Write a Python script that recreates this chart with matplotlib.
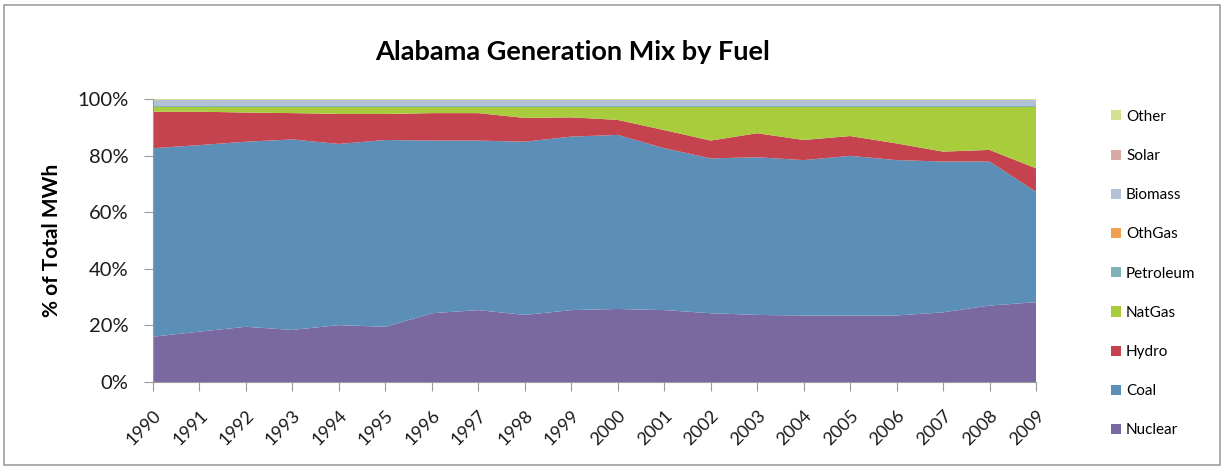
import numpy as np
import matplotlib
matplotlib.use("Agg")
import matplotlib.pyplot as plt
from matplotlib.patches import Rectangle

plt.rcParams['font.family'] = ['Lato', 'DejaVu Sans']

years = list(range(1990, 2010))

# share of total MWh by fuel, percent (stack order bottom -> top)
nuclear = [16.0, 17.8, 19.5, 18.4, 20.1, 19.5, 24.3, 25.4, 23.7, 25.4,
           25.8, 25.4, 24.3, 23.7, 23.5, 23.5, 23.5, 24.6, 27.0, 28.2]
coal = [66.6, 65.9, 65.4, 67.3, 64.0, 66.0, 61.0, 59.9, 61.2, 61.3,
        61.5, 57.2, 54.7, 55.7, 54.9, 56.4, 54.9, 53.3, 50.9, 39.0]
hydro = [12.9, 11.8, 10.3, 9.3, 10.6, 9.2, 9.7, 9.7, 8.4, 6.8,
         5.3, 6.4, 6.3, 8.5, 7.1, 7.0, 5.9, 3.5, 4.1, 8.3]
natgas = [1.8, 1.8, 2.1, 2.3, 2.6, 2.6, 2.3, 2.3, 4.0, 3.8,
          4.7, 8.3, 12.0, 9.4, 11.8, 10.4, 13.0, 15.9, 15.3, 21.8]
petroleum = [0.2] * 20
othgas = [0.05] * 20
biomass = [2.2] * 20
solar = [0.0] * 20
other = [0.25] * 20

labels = ['Nuclear', 'Coal', 'Hydro', 'NatGas', 'Petroleum',
          'OthGas', 'Biomass', 'Solar', 'Other']
colors = ['#7A69A1', '#5B8FB8', '#C5434E', '#A9CC3C', '#7FB3B5',
          '#F0A050', '#B2C0D8', '#D9A9A5', '#D4E28F']

series = np.array([nuclear, coal, hydro, natgas, petroleum,
                   othgas, biomass, solar, other])
shares = series / series.sum(axis=0)

fig = plt.figure(figsize=(12.24, 4.69), dpi=100)
ax = fig.add_axes([0.125, 0.1855, 0.7214, 0.6035])

ax.stackplot(years, shares, colors=colors, labels=labels, linewidth=0)

ax.set_xlim(years[0], years[-1])
ax.set_ylim(0, 1)
yt = np.arange(0, 1.01, 0.2)
ax.set_yticks(yt)
ax.set_yticklabels([f'{int(round(v * 100))}%' for v in yt], fontsize=14.5)
ax.set_xticks(years)
ax.set_xticklabels([str(y) for y in years], rotation=45, ha='right',
                   va='top', rotation_mode='anchor', fontsize=13)
ax.set_ylabel('% of Total MWh', fontsize=15, fontweight='bold')
ax.yaxis.set_label_coords(-0.1034, 0.5)

for side in ['top', 'right']:
    ax.spines[side].set_visible(False)
for side in ['left', 'bottom']:
    ax.spines[side].set_color('#9a9a9a')
ax.tick_params(axis='both', colors='#9a9a9a', labelcolor='#1a1a1a', length=6.5)
ax.tick_params(axis='y', pad=11)
ax.tick_params(axis='x', pad=12)

fig.text(0.468, 0.889, 'Alabama Generation Mix by Fuel', ha='center', va='center',
         fontsize=19.5, fontweight='bold')

handles, names = ax.get_legend_handles_labels()
fig.legend(handles[::-1], names[::-1], loc='upper left',
           bbox_to_anchor=(0.9025, 0.779), frameon=False, fontsize=11,
           handlelength=0.65, handleheight=0.65, handletextpad=0.35,
           labelspacing=1.65, borderaxespad=0)

# chart border
fig.patches.append(Rectangle((0.003, 0.008), 0.994, 0.982, transform=fig.transFigure,
                             fill=False, edgecolor='#a0a0a0', linewidth=1.2))

fig.savefig('out.png', dpi=100)
